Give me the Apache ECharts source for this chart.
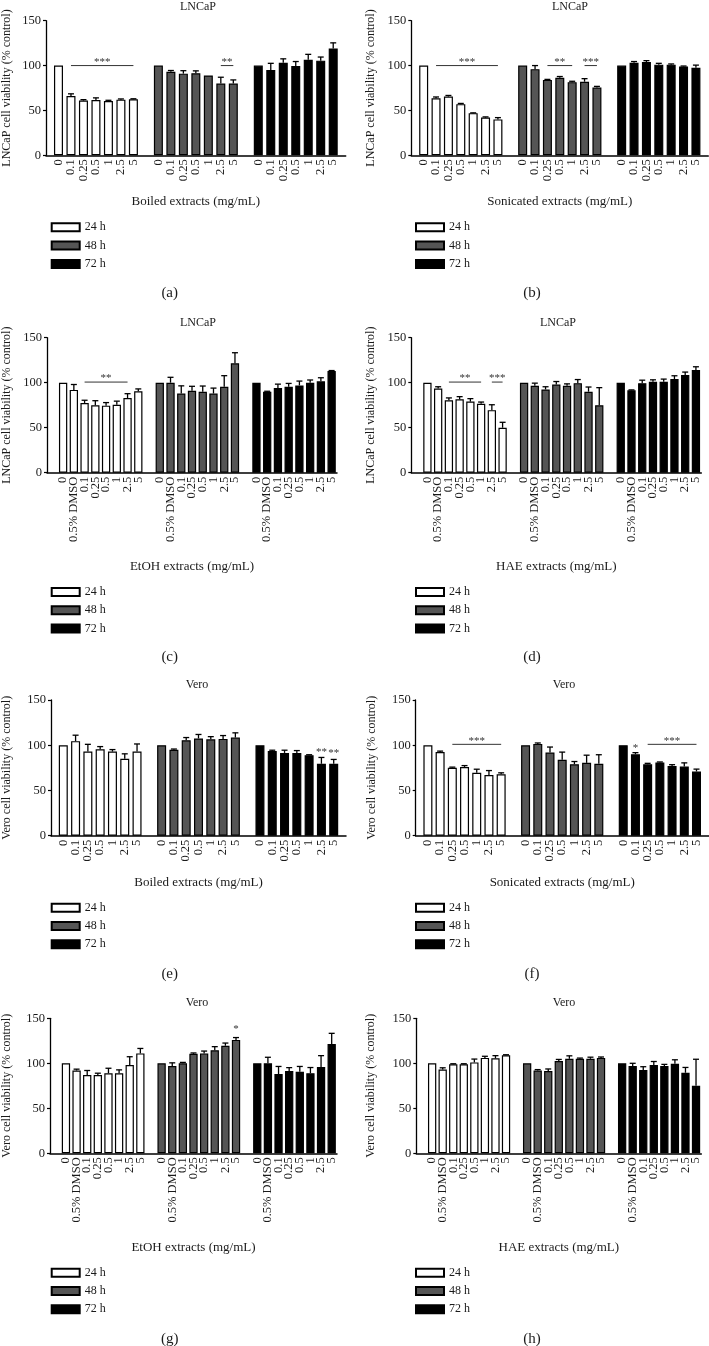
<!DOCTYPE html>
<html>
<head>
<meta charset="utf-8">
<script src="https://cdn.jsdelivr.net/npm/echarts@6/dist/echarts.min.js"></script>
<style>
html,body{margin:0;padding:0;background:#fff;}
#chart{width:709px;height:1346px;}
</style>
</head>
<body>
<div id="chart"></div>
<script>
// ---------- categories ----------
const catsBasic = ['0', '0.1', '0.25', '0.5', '1', '2.5', '5'];
const catsDMSO = ['0', '0.5% DMSO', '0.1', '0.25', '0.5', '1', '2.5', '5'];
const seriesNames = ['24 h', '48 h', '72 h'];

// ---------- (a) LNCaP, boiled ----------
const a24 = [100, 66, 61, 61.5, 60.5, 62, 62.5];
const a48 = [100, 93, 91, 91.5, 89, 80, 80];
const a72 = [100, 95, 103, 99.5, 106.5, 105.5, 119];
const a24e = [0, 2.5, 1, 2.5, 0.8, 0.8, 0.5];
const a48e = [0, 1.5, 3.3, 2.6, 0, 7, 4];
const a72e = [0, 7.5, 4.5, 5, 6, 4, 6.3];
const aSig = [[0, 1, 6, 100, '***'], [1, 5, 6, 100, '**']];

// ---------- (b) LNCaP, sonicated ----------
const b24 = [100, 63.5, 65.5, 57, 47, 42, 40];
const b48 = [100, 96, 84, 86.5, 81.5, 82, 75.5];
const b72 = [100, 103, 104, 101, 101, 99, 97.5];
const b24e = [0, 1.5, 1.2, 0.8, 0.3, 0.8, 2];
const b48e = [0, 4, 0.6, 1.3, 1, 3.4, 1.3];
const b72e = [0, 1.5, 1.5, 1.5, 0.8, 0.5, 3];
const bSig = [[0, 1, 6, 100, '***'], [1, 2, 4, 100, '**'], [1, 5, 6, 100, '***']];

// ---------- (c) LNCaP, EtOH ----------
const c24 = [100, 92, 77.5, 75, 74.5, 75.5, 83, 90.5];
const c48 = [100, 100, 88, 91, 90, 88, 95.5, 121.5];
const c72 = [100, 90, 94, 95.5, 97, 100, 101.5, 113];
const c24e = [0, 6, 3, 5, 3.4, 4, 4.8, 2.6];
const c48e = [0, 6, 8.5, 5, 6.3, 6, 12.3, 11.8];
const c72e = [0, 0.5, 4.4, 3.7, 4.8, 3, 4, 0.5];
const cSig = [[0, 2, 6, 100.7, '**']];

// ---------- (d) LNCaP, HAE ----------
const d24 = [100, 93.5, 80.5, 81.5, 79, 76.5, 69.5, 50];
const d48 = [100, 96.5, 92.5, 98, 96.5, 99.5, 90, 75];
const d72 = [100, 91.5, 99.5, 101, 101, 104, 108.5, 114];
const d24e = [0, 2, 2.6, 3, 3.3, 2, 6, 6];
const d48e = [0, 3, 3, 3.3, 2.2, 4, 5.2, 19.5];
const d72e = [0, 0.5, 3.3, 2.2, 3, 3.7, 3.3, 3.7];
const dSig = [[0, 2, 5, 100.7, '**'], [0, 6, 7, 100.7, '***']];

// ---------- (e) Vero, boiled ----------
const e24 = [100, 104.5, 93, 95.5, 93, 85, 93];
const e48 = [100, 95, 105.5, 107.5, 106.5, 107, 108.5];
const e72 = [100, 93.5, 91.5, 91.5, 89, 79.5, 79.5];
const e24e = [0, 6.6, 8, 3, 2.2, 5.5, 8.4];
const e48e = [0, 0.8, 3, 4.4, 3, 3.7, 5.2];
const e72e = [0, 1, 3, 2.6, 0.5, 7, 4.8];
const eSig = [[2, 5, 5, 88, '**'], [2, 6, 6, 87.5, '**']];

// ---------- (f) Vero, sonicated ----------
const f24 = [100, 92.5, 75, 76, 69.5, 67, 68];
const f48 = [100, 101.5, 92, 84, 79, 80.5, 79.5];
const f72 = [100, 90, 79, 81, 77, 76.5, 71];
const f24e = [0, 1, 0.8, 1.5, 4, 5, 1.5];
const f48e = [0, 1, 6, 8.4, 3, 8.5, 10];
const f72e = [0, 1.8, 1, 0.5, 1.5, 4, 2.6];
const fSig = [[0, 2, 6, 101, '***'], [2, 1, 1, 93, '*'], [2, 2, 6, 101, '***']];

// ---------- (g) Vero, EtOH ----------
const g24 = [100, 92, 87, 87, 89, 89, 98, 111];
const g48 = [100, 97, 100, 110.5, 111, 114.5, 119.5, 126];
const g72 = [100, 100, 88, 91.5, 90.5, 89, 96, 121.5];
const g24e = [0, 1.5, 5, 2, 5.5, 3.7, 9.3, 5.5];
const g48e = [0, 3.5, 1, 1, 2.6, 4, 3, 2.6];
const g72e = [0, 6.7, 8.5, 3.7, 6, 6.3, 12.5, 11.8];
const gSig = [[1, 7, 7, 134, '*']];

// ---------- (h) Vero, HAE ----------
const h24 = [100, 93, 99, 99, 101, 106, 105.5, 109];
const h48 = [100, 92, 91.5, 102.5, 105, 105, 105, 106];
const h72 = [100, 97, 92.5, 98, 97, 99.5, 89.5, 75];
const h24e = [0, 2, 0.5, 0.5, 3.7, 1.8, 3, 0.5];
const h48e = [0, 1, 2.2, 1.8, 3.3, 0.8, 1.8, 1];
const h72e = [0, 3, 3.7, 4, 1.8, 4.4, 5.9, 29.5];
const hSig = [];

// ---------- layout / style ----------
const FONT = '"Liberation Serif", "DejaVu Serif", serif';
const TXT = '#1a1a1a';
const COLORS = ['#ffffff', '#555555', '#000000'];

const panels = [
  {id: 'a', cell: 'LNCaP', ext: 'Boiled extracts (mg/mL)', cats: catsBasic, m: [a24, a48, a72], e: [a24e, a48e, a72e], sig: aSig,
   grid: {left: 45.7, top: 20.7, width: 300, height: 134.6}, yGap: 33, xGap: 40, leg: {left: 50.7, top: 221.3}, lab: [169.7, 293.3], tit: [198, 7]},
  {id: 'b', cell: 'LNCaP', ext: 'Sonicated extracts (mg/mL)', cats: catsBasic, m: [b24, b48, b72], e: [b24e, b48e, b72e], sig: bSig,
   grid: {left: 411.3, top: 20.7, width: 297, height: 134.6}, yGap: 34, xGap: 40, leg: {left: 415, top: 221.3}, lab: [532, 293.3], tit: [570, 7]},
  {id: 'c', cell: 'LNCaP', ext: 'EtOH extracts (mg/mL)', cats: catsDMSO, m: [c24, c48, c72], e: [c24e, c48e, c72e], sig: cSig,
   grid: {left: 46, top: 337.7, width: 291, height: 135}, yGap: 34, xGap: 87, leg: {left: 50.7, top: 586}, lab: [169.7, 657.3], tit: [198, 323]},
  {id: 'd', cell: 'LNCaP', ext: 'HAE extracts (mg/mL)', cats: catsDMSO, m: [d24, d48, d72], e: [d24e, d48e, d72e], sig: dSig,
   grid: {left: 411.3, top: 337.7, width: 290, height: 135}, yGap: 34, xGap: 87, leg: {left: 415, top: 586}, lab: [532, 657.3], tit: [558, 323]},
  {id: 'e', cell: 'Vero', ext: 'Boiled extracts (mg/mL)', cats: catsBasic, m: [e24, e48, e72], e: [e24e, e48e, e72e], sig: eSig,
   grid: {left: 50, top: 700, width: 296, height: 135.7}, yGap: 38, xGap: 40, leg: {left: 50.7, top: 901.7}, lab: [169.7, 974], tit: [197, 685]},
  {id: 'f', cell: 'Vero', ext: 'Sonicated extracts (mg/mL)', cats: catsBasic, m: [f24, f48, f72], e: [f24e, f48e, f72e], sig: fSig,
   grid: {left: 415.7, top: 700, width: 293, height: 135.7}, yGap: 38, xGap: 40, leg: {left: 415, top: 901.7}, lab: [532, 974], tit: [564, 685]},
  {id: 'g', cell: 'Vero', ext: 'EtOH extracts (mg/mL)', cats: catsDMSO, m: [g24, g48, g72], e: [g24e, g48e, g72e], sig: gSig,
   grid: {left: 50, top: 1018.3, width: 287, height: 135}, yGap: 37, xGap: 88, leg: {left: 50.7, top: 1266.7}, lab: [169.7, 1339], tit: [197, 1003]},
  {id: 'h', cell: 'Vero', ext: 'HAE extracts (mg/mL)', cats: catsDMSO, m: [h24, h48, h72], e: [h24e, h48e, h72e], sig: hSig,
   grid: {left: 416.3, top: 1018.3, width: 285, height: 135}, yGap: 39, xGap: 88, leg: {left: 415, top: 1266.7}, lab: [532, 1339], tit: [564, 1003]}
];

const grids = [], xAxes = [], yAxes = [], series = [], legends = [], graphics = [];

panels.forEach((p, pi) => {
  const n = p.cats.length;
  const edgeMode = n === 7;          // 7-bar panels: blank slot at both ends, ticks on band edges
  const idx = (g, i) => 1 + g * (n + 1) + i;
  const cats = [''];
  for (let g = 0; g < 3; g++) {
    cats.push(...p.cats);
    if (g < 2) cats.push('');
  }
  if (edgeMode) cats.push('');

  grids.push(Object.assign({containLabel: false}, p.grid));
  xAxes.push({
    type: 'category', gridIndex: pi, data: cats, boundaryGap: !edgeMode,
    axisLine: {show: true, lineStyle: {color: '#000', width: 1.5}},
    axisTick: {show: false},
    axisLabel: {interval: 0, rotate: 90, margin: 4, fontSize: 12.5, fontFamily: FONT, color: TXT},
    splitLine: {show: false},
    name: p.ext, nameLocation: 'middle', nameGap: p.xGap,
    nameTextStyle: {fontSize: 13, fontFamily: FONT, color: TXT}
  });
  yAxes.push({
    type: 'value', gridIndex: pi, min: 0, max: 150, interval: 50,
    axisLine: {show: true, lineStyle: {color: '#000', width: 1.3}},
    axisTick: {show: true, length: 3, lineStyle: {color: '#000', width: 1.2}},
    axisLabel: {margin: 5, fontSize: 12.5, fontFamily: FONT, color: TXT},
    splitLine: {show: false},
    name: p.cell + ' cell viability (% control)', nameLocation: 'middle', nameGap: p.yGap,
    nameTextStyle: {fontSize: 12, fontFamily: FONT, color: TXT}
  });

  const errData = [];
  for (let g = 0; g < 3; g++) {
    const data = cats.map(() => '-');
    p.m[g].forEach((v, i) => {
      data[idx(g, i)] = v;
      if (p.e[g][i] > 0) errData.push([idx(g, i), v, p.e[g][i]]);
    });
    series.push({
      type: 'bar', name: seriesNames[g], xAxisIndex: pi, yAxisIndex: pi, data: data,
      barWidth: edgeMode ? 9 : 8.3, barGap: '-100%',
      itemStyle: {color: COLORS[g], borderColor: '#000', borderWidth: 1.2},
      emphasis: {disabled: true}, silent: true, z: 2
    });
  }
  series.push({
    type: 'custom', name: 'err' + p.id, xAxisIndex: pi, yAxisIndex: pi, data: errData,
    encode: {x: 0, y: [1, 2]}, z: 5, silent: true, clip: false,
    renderItem: (params, api) => {
      const x = api.value(0), m = api.value(1), e = api.value(2);
      const p1 = api.coord([x, m]);
      const p2 = api.coord([x, m + e]);
      const st = {stroke: '#000', lineWidth: 1.3};
      return {type: 'group', children: [
        {type: 'line', shape: {x1: p1[0], y1: p1[1], x2: p2[0], y2: p2[1]}, style: st},
        {type: 'line', shape: {x1: p2[0] - 3, y1: p2[1], x2: p2[0] + 3, y2: p2[1]}, style: st}
      ]};
    }
  });
  const sigData = p.sig.map(s => [idx(s[0], s[1]), idx(s[0], s[2]), s[3]]);
  const sigLabels = p.sig.map(s => s[4]);
  series.push({
    type: 'custom', name: 'sig' + p.id, xAxisIndex: pi, yAxisIndex: pi, data: sigData,
    encode: {x: [0, 1], y: 2}, z: 6, silent: true, clip: false,
    renderItem: (params, api) => {
      const p1 = api.coord([api.value(0), api.value(2)]);
      const p2 = api.coord([api.value(1), api.value(2)]);
      const children = [];
      if (api.value(0) !== api.value(1)) {
        children.push({type: 'line', shape: {x1: p1[0], y1: p1[1], x2: p2[0], y2: p2[1]}, style: {stroke: '#333', lineWidth: 1}});
      }
      children.push({type: 'text', x: (p1[0] + p2[0]) / 2, y: p1[1] - 3.5,
        style: {text: sigLabels[params.dataIndex], font: '11px ' + FONT, fill: '#333',
                align: 'center', textAlign: 'center', verticalAlign: 'middle', textVerticalAlign: 'middle'}});
      return {type: 'group', children: children};
    }
  });

  legends.push({
    data: seriesNames, orient: 'vertical', left: p.leg.left, top: p.leg.top,
    itemWidth: 28, itemHeight: 8, itemGap: 6.3, icon: 'rect', selectedMode: false,
    textStyle: {fontSize: 12, fontFamily: FONT, color: TXT}, padding: 0
  });

  graphics.push({type: 'text', x: p.tit[0], y: p.tit[1], silent: true,
    style: {text: p.cell, font: '12px ' + FONT, fill: TXT, align: 'center', textAlign: 'center', verticalAlign: 'middle', textVerticalAlign: 'middle'}});
  graphics.push({type: 'text', x: p.lab[0], y: p.lab[1], silent: true,
    style: {text: '(' + p.id + ')', font: '15px ' + FONT, fill: TXT, align: 'center', textAlign: 'center', verticalAlign: 'middle', textVerticalAlign: 'middle'}});
});

const chart = echarts.init(document.getElementById('chart'), null, {renderer: 'canvas'});
chart.setOption({
  animation: false,
  backgroundColor: '#ffffff',
  grid: grids, xAxis: xAxes, yAxis: yAxes, series: series, legend: legends,
  graphic: {elements: graphics},
  tooltip: {show: false}
});
</script>
</body>
</html>
